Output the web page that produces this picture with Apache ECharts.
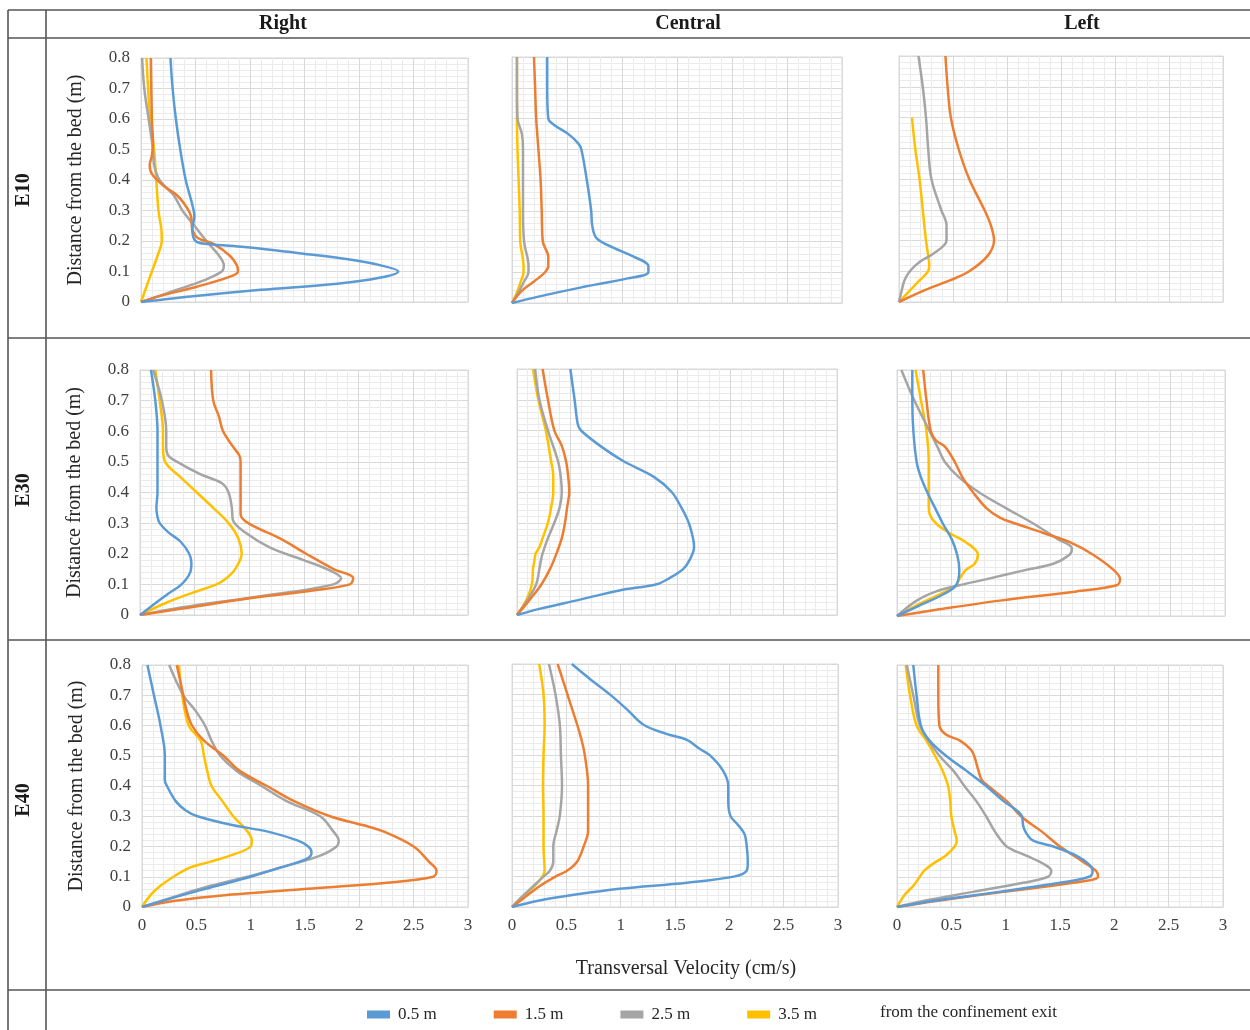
<!DOCTYPE html>
<html>
<head>
<meta charset="utf-8">
<script src="https://cdn.jsdelivr.net/npm/echarts@6/dist/echarts.min.js"></script>
<style>html,body{margin:0;padding:0;background:#fff}#c{width:1250px;height:1030px}</style>
</head>
<body>
<div id="c"></div>
<script>
// ---- categories / labels ----
const rowLabels = ['E10', 'E30', 'E40'];
const colLabels = ['Right', 'Central', 'Left'];
const seriesNames = ['0.5 m', '1.5 m', '2.5 m', '3.5 m'];
const xTicks = [0, 0.5, 1, 1.5, 2, 2.5, 3];
const yTicks = [0, 0.1, 0.2, 0.3, 0.4, 0.5, 0.6, 0.7, 0.8];

// ---- data: [velocity (cm/s), distance from bed (m)] ----
// E10 Right
const E10_R_05 = [[0,0],[0.5,0.02],[1.1,0.04],[1.8,0.06],[2.2,0.08],[2.36,0.1],[2.2,0.12],[1.9,0.14],[1.45,0.16],[0.95,0.18],[0.62,0.19],[0.5,0.2],[0.47,0.24],[0.49,0.28],[0.47,0.32],[0.41,0.4],[0.36,0.5],[0.32,0.6],[0.29,0.7],[0.27,0.8]];
const E10_R_15 = [[0,0],[0.18,0.02],[0.51,0.05],[0.79,0.08],[0.89,0.1],[0.88,0.12],[0.82,0.15],[0.67,0.19],[0.52,0.21],[0.47,0.24],[0.46,0.28],[0.42,0.31],[0.33,0.35],[0.21,0.38],[0.1,0.42],[0.08,0.45],[0.1,0.48],[0.11,0.52],[0.1,0.6],[0.09,0.8]];
const E10_R_25 = [[0,0],[0.33,0.04],[0.57,0.07],[0.74,0.1],[0.76,0.12],[0.72,0.15],[0.6,0.2],[0.49,0.25],[0.38,0.3],[0.3,0.35],[0.17,0.4],[0.12,0.45],[0.11,0.5],[0.07,0.6],[0.03,0.7],[0.01,0.8]];
const E10_R_35 = [[0,0],[0.05,0.05],[0.1,0.1],[0.15,0.15],[0.19,0.2],[0.19,0.22],[0.16,0.3],[0.14,0.4],[0.12,0.5],[0.085,0.6],[0.065,0.7],[0.05,0.8]];
// E10 Central
const E10_C_05 = [[0,0],[0.23,0.02],[0.62,0.05],[1.05,0.08],[1.24,0.1],[1.24,0.12],[1.11,0.15],[0.92,0.18],[0.77,0.21],[0.73,0.25],[0.72,0.3],[0.68,0.4],[0.63,0.5],[0.6,0.52],[0.51,0.55],[0.38,0.58],[0.33,0.6],[0.32,0.7],[0.32,0.8]];
const E10_C_15 = [[0,0],[0.09,0.04],[0.2,0.07],[0.3,0.1],[0.33,0.12],[0.33,0.15],[0.28,0.2],[0.27,0.3],[0.26,0.4],[0.24,0.5],[0.22,0.6],[0.21,0.7],[0.2,0.8]];
const E10_C_25 = [[0,0],[0.05,0.03],[0.11,0.07],[0.15,0.1],[0.15,0.12],[0.11,0.2],[0.1,0.3],[0.1,0.4],[0.1,0.5],[0.09,0.55],[0.05,0.6],[0.045,0.7],[0.045,0.8]];
const E10_C_35 = [[0,0],[0.04,0.03],[0.08,0.07],[0.105,0.1],[0.105,0.12],[0.075,0.2],[0.07,0.3],[0.06,0.4],[0.05,0.5],[0.045,0.6],[0.045,0.7],[0.045,0.8]];
// E10 Left (no 0.5 m profile)
const E10_L_15 = [[0,0],[0.25,0.04],[0.47,0.07],[0.65,0.1],[0.82,0.15],[0.88,0.2],[0.85,0.25],[0.79,0.3],[0.65,0.4],[0.55,0.5],[0.48,0.6],[0.45,0.7],[0.43,0.8]];
const E10_L_25 = [[0,0],[0.02,0.03],[0.05,0.07],[0.1,0.1],[0.19,0.13],[0.33,0.16],[0.44,0.2],[0.44,0.25],[0.39,0.3],[0.3,0.4],[0.27,0.5],[0.25,0.6],[0.22,0.7],[0.18,0.8]];
const E10_L_35 = [[0,0],[0.08,0.03],[0.19,0.07],[0.27,0.1],[0.28,0.12],[0.27,0.15],[0.25,0.2],[0.22,0.3],[0.19,0.4],[0.15,0.5],[0.12,0.6]];
// E30 Right
const E30_R_05 = [[0,0],[0.11,0.03],[0.26,0.07],[0.38,0.1],[0.46,0.14],[0.47,0.17],[0.45,0.2],[0.37,0.24],[0.26,0.27],[0.18,0.3],[0.16,0.32],[0.15,0.35],[0.16,0.4],[0.16,0.5],[0.16,0.6],[0.14,0.7],[0.1,0.8]];
const E30_R_15 = [[0,0],[0.37,0.02],[0.91,0.05],[1.58,0.08],[1.92,0.1],[1.95,0.12],[1.77,0.15],[1.52,0.2],[1.28,0.25],[0.99,0.3],[0.92,0.33],[0.92,0.4],[0.92,0.5],[0.91,0.52],[0.85,0.55],[0.76,0.6],[0.72,0.65],[0.67,0.7],[0.65,0.8]];
const E30_R_25 = [[0,0],[0.3,0.02],[0.67,0.04],[1.28,0.07],[1.77,0.1],[1.84,0.12],[1.71,0.15],[1.49,0.18],[1.19,0.22],[0.96,0.27],[0.85,0.31],[0.84,0.35],[0.81,0.4],[0.75,0.43],[0.55,0.46],[0.34,0.5],[0.26,0.52],[0.24,0.55],[0.24,0.6],[0.2,0.7],[0.12,0.8]];
const E30_R_35 = [[0,0],[0.24,0.04],[0.46,0.07],[0.7,0.1],[0.79,0.12],[0.87,0.15],[0.93,0.2],[0.9,0.25],[0.81,0.3],[0.67,0.35],[0.52,0.4],[0.37,0.45],[0.23,0.5],[0.21,0.55],[0.21,0.6],[0.18,0.7],[0.14,0.8]];
// E30 Central
const E30_C_05 = [[0,0],[0.21,0.02],[0.59,0.05],[0.96,0.08],[1.31,0.1],[1.43,0.12],[1.56,0.15],[1.62,0.18],[1.66,0.22],[1.65,0.25],[1.61,0.3],[1.54,0.35],[1.45,0.4],[1.28,0.45],[1.0,0.5],[0.78,0.55],[0.6,0.6],[0.57,0.62],[0.54,0.7],[0.5,0.8]];
const E30_C_15 = [[0,0],[0.12,0.05],[0.23,0.1],[0.31,0.15],[0.37,0.2],[0.42,0.25],[0.45,0.3],[0.47,0.35],[0.49,0.4],[0.48,0.45],[0.46,0.5],[0.42,0.55],[0.35,0.6],[0.29,0.7],[0.24,0.8]];
const E30_C_25 = [[0,0],[0.1,0.05],[0.18,0.1],[0.21,0.15],[0.22,0.17],[0.24,0.2],[0.29,0.25],[0.35,0.3],[0.4,0.35],[0.42,0.4],[0.41,0.45],[0.385,0.5],[0.29,0.6],[0.21,0.7],[0.17,0.8]];
const E30_C_35 = [[0,0],[0.09,0.05],[0.14,0.1],[0.15,0.15],[0.16,0.17],[0.175,0.2],[0.21,0.22],[0.24,0.25],[0.29,0.3],[0.32,0.35],[0.34,0.4],[0.34,0.45],[0.32,0.5],[0.27,0.6],[0.2,0.7],[0.15,0.8]];
// E30 Left
const E30_L_05 = [[0,0],[0.18,0.03],[0.42,0.07],[0.54,0.1],[0.57,0.15],[0.55,0.2],[0.5,0.25],[0.42,0.3],[0.35,0.35],[0.28,0.4],[0.22,0.45],[0.18,0.5],[0.15,0.6],[0.14,0.7],[0.14,0.8]];
const E30_L_15 = [[0,0],[0.36,0.02],[0.94,0.05],[1.64,0.08],[2.01,0.1],[2.04,0.12],[1.98,0.15],[1.79,0.2],[1.58,0.24],[1.34,0.27],[1.09,0.3],[0.94,0.32],[0.82,0.35],[0.7,0.4],[0.6,0.45],[0.53,0.5],[0.44,0.55],[0.36,0.57],[0.31,0.6],[0.27,0.7],[0.24,0.8]];
const E30_L_25 = [[0,0],[0.18,0.05],[0.36,0.08],[0.57,0.1],[0.82,0.12],[1.18,0.15],[1.43,0.17],[1.58,0.2],[1.6,0.22],[1.47,0.25],[1.25,0.3],[1.0,0.35],[0.76,0.4],[0.57,0.45],[0.44,0.5],[0.37,0.55],[0.3,0.6],[0.16,0.7],[0.04,0.8]];
const E30_L_35 = [[0,0],[0.21,0.04],[0.39,0.07],[0.54,0.1],[0.57,0.12],[0.63,0.15],[0.71,0.17],[0.74,0.2],[0.63,0.24],[0.48,0.27],[0.36,0.3],[0.3,0.33],[0.29,0.36],[0.29,0.4],[0.29,0.5],[0.27,0.6],[0.22,0.7],[0.17,0.8]];
// E40 Right
const E40_R_05 = [[0,0],[0.38,0.04],[0.69,0.07],[1.0,0.1],[1.27,0.13],[1.52,0.16],[1.56,0.18],[1.53,0.2],[1.43,0.22],[1.15,0.25],[0.84,0.27],[0.51,0.3],[0.4,0.32],[0.31,0.35],[0.23,0.4],[0.21,0.42],[0.21,0.45],[0.21,0.5],[0.17,0.6],[0.11,0.7],[0.05,0.8]];
const E40_R_15 = [[0,0],[0.29,0.02],[0.78,0.04],[1.52,0.06],[2.25,0.08],[2.68,0.1],[2.71,0.12],[2.64,0.15],[2.5,0.2],[2.22,0.25],[2.04,0.27],[1.73,0.3],[1.4,0.35],[1.15,0.4],[0.9,0.45],[0.75,0.5],[0.57,0.55],[0.46,0.6],[0.41,0.65],[0.38,0.7],[0.32,0.8]];
const E40_R_25 = [[0,0],[0.35,0.04],[0.63,0.07],[0.97,0.1],[1.27,0.13],[1.64,0.17],[1.79,0.2],[1.81,0.22],[1.76,0.25],[1.64,0.3],[1.33,0.35],[1.1,0.4],[0.87,0.45],[0.72,0.5],[0.64,0.55],[0.58,0.6],[0.49,0.65],[0.38,0.7],[0.25,0.8]];
const E40_R_35 = [[0,0],[0.08,0.04],[0.17,0.07],[0.29,0.1],[0.44,0.13],[0.63,0.15],[0.81,0.17],[1.0,0.2],[1.01,0.22],[0.97,0.25],[0.84,0.3],[0.74,0.35],[0.64,0.4],[0.6,0.45],[0.57,0.5],[0.54,0.55],[0.43,0.6],[0.37,0.7],[0.34,0.8]];
// E40 Central
const E40_C_05 = [[0,0],[0.23,0.02],[0.57,0.04],[0.99,0.06],[1.61,0.08],[2.04,0.1],[2.16,0.12],[2.17,0.15],[2.16,0.2],[2.14,0.24],[2.08,0.27],[2.01,0.3],[1.99,0.35],[1.99,0.4],[1.94,0.45],[1.82,0.5],[1.73,0.52],[1.61,0.55],[1.42,0.57],[1.21,0.6],[1.06,0.65],[0.9,0.7],[0.72,0.75],[0.55,0.8]];
const E40_C_15 = [[0,0],[0.11,0.03],[0.26,0.07],[0.4,0.1],[0.51,0.12],[0.6,0.15],[0.66,0.2],[0.7,0.25],[0.7,0.3],[0.7,0.4],[0.67,0.5],[0.64,0.55],[0.6,0.6],[0.51,0.7],[0.42,0.8]];
const E40_C_25 = [[0,0],[0.08,0.03],[0.2,0.07],[0.29,0.1],[0.35,0.12],[0.38,0.15],[0.38,0.2],[0.41,0.25],[0.44,0.3],[0.46,0.4],[0.45,0.5],[0.44,0.6],[0.4,0.7],[0.34,0.8]];
const E40_C_35 = [[0,0],[0.09,0.03],[0.21,0.07],[0.28,0.1],[0.3,0.12],[0.29,0.2],[0.29,0.3],[0.285,0.4],[0.29,0.5],[0.3,0.6],[0.29,0.7],[0.25,0.8]];
// E40 Left
const E40_L_05 = [[0,0],[0.33,0.02],[0.94,0.05],[1.5,0.08],[1.77,0.1],[1.8,0.12],[1.77,0.14],[1.65,0.17],[1.44,0.2],[1.25,0.22],[1.18,0.25],[1.16,0.27],[1.15,0.3],[1.1,0.32],[0.98,0.35],[0.82,0.4],[0.64,0.45],[0.45,0.5],[0.3,0.55],[0.22,0.6],[0.18,0.7],[0.15,0.8]];
const E40_L_15 = [[0,0],[0.36,0.02],[0.98,0.05],[1.62,0.08],[1.85,0.1],[1.83,0.12],[1.71,0.15],[1.5,0.2],[1.33,0.25],[1.14,0.3],[1.01,0.35],[0.84,0.4],[0.78,0.42],[0.75,0.45],[0.71,0.5],[0.68,0.52],[0.58,0.55],[0.45,0.57],[0.39,0.6],[0.38,0.7],[0.38,0.8]];
const E40_L_25 = [[0,0],[0.24,0.02],[0.7,0.05],[1.16,0.08],[1.39,0.1],[1.42,0.12],[1.36,0.14],[1.19,0.17],[1.01,0.2],[0.9,0.25],[0.82,0.3],[0.73,0.35],[0.62,0.4],[0.52,0.45],[0.39,0.5],[0.29,0.55],[0.21,0.6],[0.15,0.7],[0.09,0.8]];
const E40_L_35 = [[0,0],[0.07,0.04],[0.15,0.07],[0.21,0.1],[0.25,0.12],[0.36,0.15],[0.45,0.17],[0.53,0.2],[0.55,0.22],[0.53,0.25],[0.5,0.3],[0.49,0.35],[0.47,0.4],[0.42,0.45],[0.35,0.5],[0.27,0.55],[0.18,0.6],[0.12,0.7],[0.08,0.8]];

// panels [row][col] -> list of series (null = absent)
const panels = [
  [[E10_R_05, E10_R_15, E10_R_25, E10_R_35], [E10_C_05, E10_C_15, E10_C_25, E10_C_35], [null, E10_L_15, E10_L_25, E10_L_35]],
  [[E30_R_05, E30_R_15, E30_R_25, E30_R_35], [E30_C_05, E30_C_15, E30_C_25, E30_C_35], [E30_L_05, E30_L_15, E30_L_25, E30_L_35]],
  [[E40_R_05, E40_R_15, E40_R_25, E40_R_35], [E40_C_05, E40_C_15, E40_C_25, E40_C_35], [E40_L_05, E40_L_15, E40_L_25, E40_L_35]]
];

// ---- layout / style ----
const COLORS = ['#5B9BD5', '#ED7D31', '#A5A5A5', '#FFC000'];
const FONT = '"Liberation Serif", "Times New Roman", serif';
const GRID_POS = [
  [{left:141,top:58,width:327,height:244},{left:512,top:57,width:330,height:246},{left:899,top:56,width:324,height:246}],
  [{left:140,top:370,width:328,height:245},{left:517,top:369,width:320,height:246},{left:897,top:370,width:328,height:246}],
  [{left:142,top:665,width:326,height:242},{left:512,top:664,width:326,height:243},{left:897,top:665,width:326,height:242}]
];
const ROW_CENTER = [190, 490, 800];
const COL_CENTER = [283, 688, 1082];

const grids = [], xAxes = [], yAxes = [], series = [];
let gi = 0;
for (let r = 0; r < 3; r++) {
  for (let c = 0; c < 3; c++) {
    const p = GRID_POS[r][c];
    grids.push({left:p.left, top:p.top, width:p.width, height:p.height, show:true, borderColor:'#d9d9d9', borderWidth:1});
    xAxes.push({
      type:'value', gridIndex:gi, min:xTicks[0], max:xTicks[xTicks.length-1], interval:0.5,
      axisLine:{show:true, lineStyle:{color:'#d9d9d9'}}, axisTick:{show:false},
      axisLabel:{show:r === 2, color:'#404040', fontFamily:FONT, fontSize:17, margin:10},
      splitLine:{show:true, lineStyle:{color:'#d9d9d9', width:1}},
      minorTick:{show:false, splitNumber:5},
      minorSplitLine:{show:true, lineStyle:{color:'#ebebeb', width:1}}
    });
    yAxes.push({
      type:'value', gridIndex:gi, min:yTicks[0], max:yTicks[yTicks.length-1], interval:0.1,
      axisLine:{show:true, lineStyle:{color:'#d9d9d9'}}, axisTick:{show:false},
      axisLabel:{show:c === 0, color:'#404040', fontFamily:FONT, fontSize:17, margin:11,
        formatter: v => String(Math.round(v*10)/10)},
      splitLine:{show:true, lineStyle:{color:'#d9d9d9', width:1}},
      minorTick:{show:false, splitNumber:5},
      minorSplitLine:{show:true, lineStyle:{color:'#ebebeb', width:1}},
      name: c === 0 ? 'Distance from the bed (m)' : '', nameLocation:'middle', nameGap:55,
      nameTextStyle:{color:'#262626', fontFamily:FONT, fontSize:20}
    });
    panels[r][c].forEach((d, k) => {
      if (!d) return;
      series.push({
        name: seriesNames[k], type:'line', xAxisIndex:gi, yAxisIndex:gi,
        data: d, smooth:0.35, showSymbol:false, symbol:'none',
        lineStyle:{color:COLORS[k], width:2.5}, itemStyle:{color:COLORS[k]},
        z: 10 - k
      });
    });
    gi++;
  }
}

const LINE = {stroke:'#555', lineWidth:1.6};
const graphic = [
  {type:'line', shape:{x1:8,y1:10,x2:1250,y2:10}, style:LINE},
  {type:'line', shape:{x1:8,y1:38,x2:1250,y2:38}, style:LINE},
  {type:'line', shape:{x1:8,y1:338,x2:1250,y2:338}, style:LINE},
  {type:'line', shape:{x1:8,y1:640,x2:1250,y2:640}, style:LINE},
  {type:'line', shape:{x1:8,y1:990,x2:1250,y2:990}, style:LINE},
  {type:'line', shape:{x1:8,y1:10,x2:8,y2:1030}, style:LINE},
  {type:'line', shape:{x1:46,y1:10,x2:46,y2:1030}, style:LINE}
];
colLabels.forEach((t, i) => graphic.push({type:'text', x:COL_CENTER[i], y:24,
  style:{text:t, font:'bold 20px ' + FONT, fill:'#1a1a1a', align:'center', verticalAlign:'middle'}}));
rowLabels.forEach((t, i) => graphic.push({type:'text', x:24, y:ROW_CENTER[i], rotation:Math.PI/2,
  style:{text:t, font:'bold 20px ' + FONT, fill:'#1a1a1a', align:'center', verticalAlign:'middle'}}));
graphic.push({type:'text', x:686, y:969,
  style:{text:'Transversal Velocity (cm/s)', font:'20px ' + FONT, fill:'#262626', align:'center', verticalAlign:'middle'}});
graphic.push({type:'text', x:880, y:1013,
  style:{text:'from the confinement exit', font:'17px ' + FONT, fill:'#262626', align:'left', verticalAlign:'middle'}});

const chart = echarts.init(document.getElementById('c'), null, {renderer:'canvas'});
chart.setOption({
  animation:false,
  backgroundColor:'#ffffff',
  grid:grids, xAxis:xAxes, yAxis:yAxes, series:series, graphic:graphic,
  legend:{
    data:seriesNames, left:362, top:1001, icon:'rect', itemWidth:23, itemHeight:8, itemGap:57,
    textStyle:{fontFamily:FONT, fontSize:17, color:'#262626', padding:[0,0,0,3]}
  }
});
</script>
</body>
</html>
